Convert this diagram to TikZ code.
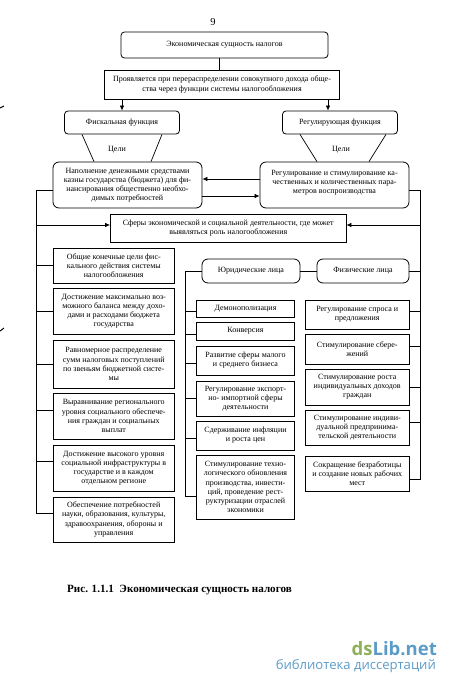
\documentclass[tikz,border=0pt]{standalone}
\usepackage{fontspec}
\setmainfont{Liberation Serif}
\newfontfamily\marksans{Open Sans}
\usetikzlibrary{arrows.meta,calc}
\definecolor{marklime}{HTML}{8FAE5A}
\definecolor{markblue}{HTML}{5B9BC8}
\tikzset{
  sqbox/.style={draw,line width=0.8pt,align=center,inner sep=0pt,font=\fontsize{8}{9.1}\selectfont},
  rdbox/.style={sqbox,rounded corners=3.5pt},
  bigrd/.style={sqbox,rounded corners=6pt},
  link/.style={line width=0.7pt},
  feed/.style={line width=0.7pt,-{Latex[length=5pt,width=4.5pt]}}
}
\begin{document}
\begin{tikzpicture}[x=1pt,y=-1pt]
\useasboundingbox (0,0) rectangle (450,686);
\node[font=\fontsize{10.5}{12}\selectfont] (pagenum) at (213,22) {9};
% top of the scheme
\node[rdbox,minimum width=207pt,minimum height=26pt] (main) at (224.5,45) {Экономическая сущность налогов};
\node[sqbox,minimum width=235.5pt,minimum height=29pt] (manifest) at (222,84.5) {Проявляется при перераспределении совокупного дохода обще-\\ства через функции системы налогообложения};
\node[rdbox,minimum width=115pt,minimum height=23pt] (fiscal) at (122,122.5) {Фискальная функция};
\node[rdbox,minimum width=115pt,minimum height=23pt] (regul) at (340,122.5) {Регулирующая функция};
\node[bigrd,minimum width=149pt,minimum height=46pt] (fiscgoal) at (127.5,185) {Наполнение денежными средствами\\казны государства (бюджета) для фи-\\нансирования общественно необхо-\\димых потребностей};
\node[bigrd,minimum width=149pt,minimum height=46pt] (regulgoal) at (334.5,185) {Регулирование и стимулирование ка-\\чественных и количественных пара-\\метров воспроизводства\\[-3pt]\mbox{}};
\node[font=\fontsize{8}{9.1}\selectfont] (aimleft) at (117,150) {Цели};
\node[font=\fontsize{8}{9.1}\selectfont] (aimright) at (341,150) {Цели};
\node[sqbox,minimum width=235.5pt,minimum height=28pt] (sphere) at (228.25,228) {Сферы экономической и социальной деятельности, где может\\выявляться роль налогообложения};
% left column
\node[sqbox,minimum width=120.5pt,minimum height=35pt] (aim1) at (113.75,265.5) {Общие конечные цели фис-\\кального действия системы\\налогообложения};
\node[sqbox,minimum width=120.5pt,minimum height=46pt] (aim2) at (113.75,311) {Достижение максимально воз-\\можного баланса между дохо-\\дами и расходами бюджета\\государства};
\node[sqbox,minimum width=120.5pt,minimum height=48pt] (aim3) at (113.75,364) {Равномерное распределение\\сумм налоговых поступлений\\по звеньям бюджетной систе-\\мы};
\node[sqbox,minimum width=120.5pt,minimum height=46pt] (aim4) at (113.75,416) {Выравнивание регионального\\уровня социального обеспече-\\ния граждан и социальных\\выплат};
\node[sqbox,minimum width=120.5pt,minimum height=46pt] (aim5) at (113.75,468) {Достижение высокого уровня\\социальной инфраструктуры в\\государстве и в каждом\\отдельном регионе};
\node[sqbox,minimum width=120.5pt,minimum height=45pt] (aim6) at (113.75,519.5) {Обеспечение потребностей\\науки, образования, культуры,\\здравоохранения, обороны и\\управления};
% legal persons
\node[bigrd,minimum width=98pt,minimum height=24pt] (legal) at (251,271) {Юридические лица};
\node[sqbox,minimum width=98pt,minimum height=17pt] (leg1) at (245.5,308.5) {Демонополизация};
\node[sqbox,minimum width=98pt,minimum height=18pt] (leg2) at (245.5,331) {Конверсия};
\node[sqbox,minimum width=98pt,minimum height=29pt] (leg3) at (245.5,360.5) {Развитие сферы малого\\и среднего бизнеса};
\node[sqbox,minimum width=98pt,minimum height=35pt] (leg4) at (245.5,398.5) {Регулирование экспорт-\\но- импортной сферы\\деятельности};
\node[sqbox,minimum width=98pt,minimum height=29pt] (leg5) at (245.5,435.5) {Сдерживание инфляции\\и роста цен};
\node[sqbox,minimum width=98pt,minimum height=64pt] (leg6) at (245.5,487) {Стимулирование техно-\\логического обновления\\производства, инвести-\\ций, проведение рест-\\руктуризации отраслей\\экономики};
% natural persons
\node[bigrd,minimum width=92pt,minimum height=24pt] (natural) at (363,271) {Физические лица};
\node[sqbox,minimum width=103.5pt,minimum height=29pt] (nat1) at (357.25,314.5) {Регулирование спроса и\\предложения};
\node[sqbox,minimum width=103.5pt,minimum height=30pt] (nat2) at (357.25,349) {Стимулирование сбере-\\жений};
\node[sqbox,minimum width=103.5pt,minimum height=36pt] (nat3) at (357.25,387) {Стимулирование роста\\индивидуальных доходов\\граждан};
\node[sqbox,minimum width=103.5pt,minimum height=35pt] (nat4) at (357.25,427.5) {Стимулирование индиви-\\дуальной предпринима-\\тельской деятельности};
\node[sqbox,minimum width=103.5pt,minimum height=35pt] (nat5) at (357.25,473.5) {Сокращение безработицы\\и создание новых рабочих\\мест};
% trunk lines
\coordinate (ltop) at (36,190.5);
\coordinate (lbot) at (36,513);
\coordinate (ltip) at (36,225);
\coordinate (mtop) at (185,271);
\coordinate (mbot) at (185,496);
\coordinate (rtop) at (420.5,190.5);
\coordinate (rbot) at (420.5,479);
\coordinate (rtip) at (420.5,225);
\draw[link] ([xshift=-5.5pt]main.south) -- ([xshift=-5.5pt]main.south |- manifest.north);
\draw[feed] (fiscal.north |- manifest.south) -- (fiscal.north);
\draw[feed] ([xshift=-12pt]regul.north |- manifest.south) -- ([xshift=-12pt]regul.north);
% the two pairs of lines under the functions
\draw[link] ([xshift=-40pt]fiscal.south) -- ([xshift=-28pt]fiscgoal.north -| fiscal.south);
\draw[link] ([xshift=40pt]fiscal.south) -- ([xshift=29pt]fiscgoal.north -| fiscal.south);
\draw[link] ([xshift=-40pt]regul.south) -- ([xshift=-23pt]regulgoal.north -| regul.south);
\draw[link] ([xshift=46pt]regul.south) -- ([xshift=29pt]regulgoal.north -| regul.south);
\draw[feed] ([yshift=6pt]regulgoal.west) -- ([yshift=6pt]fiscgoal.east);
\draw[feed] ([yshift=-11pt]fiscgoal.east) -- ([yshift=-11pt]regulgoal.west);
\draw[link] (fiscgoal.west |- ltop) -- (ltop) -- (lbot) -- (aim6.west |- lbot);
\draw[link] (regulgoal.east |- rtop) -- (rtop) -- (rbot) -- (nat5.east |- rbot);
\draw[feed] (ltip) -- (ltip -| sphere.west);
\draw[feed] (rtip) -- (rtip -| sphere.east);
\foreach \boxname/\lift in {aim1/0,aim2/0,aim3/0,aim4/6,aim5/7}
  \draw[link] (lbot |- {$(\boxname.west)+(0,\lift pt)$}) -- ([yshift=\lift pt]\boxname.west);
\draw[link] (mtop) -- (legal.west);
\draw[link] (legal.east) -- (natural.west);
\draw[link] (natural.east) -- (rbot |- natural.east);
\draw[link] (mtop) -- (mbot) -- (leg6.west |- mbot);
\foreach \boxname/\lift in {leg1/-2.5,leg2/-3,leg3/-2.5,leg4/0,leg5/-2.5}
  \draw[link] (mbot |- {$(\boxname.west)+(0,\lift pt)$}) -- ([yshift=\lift pt]\boxname.west);
\foreach \boxname/\lift in {nat1/3.5,nat2/3,nat3/0,nat4/5.5}
  \draw[link] (rbot |- {$(\boxname.east)+(0,\lift pt)$}) -- ([yshift=\lift pt]\boxname.east);
% caption and site mark
\node[font=\fontsize{11.1}{13}\selectfont\bfseries] (caption) at (179.5,590) {Рис. 1.1.1\ \ Экономическая сущность налогов};
\node[anchor=east,font=\marksans\fontsize{18.5}{20}\selectfont\bfseries,inner sep=0pt] (site) at (437,649) {\textcolor{marklime}{ds}\textcolor{markblue}{Lib.net}};
\node[anchor=east,font=\marksans\fontsize{13.1}{15}\selectfont,text=markblue,inner sep=0pt] (sitesub) at (436,666) {библиотека диссертаций};
% scan specks at the margin
\draw[line width=1pt] (0,108) -- (4,106);
\draw[line width=1pt] (0,331) -- (4,328);
\end{tikzpicture}
\end{document}
